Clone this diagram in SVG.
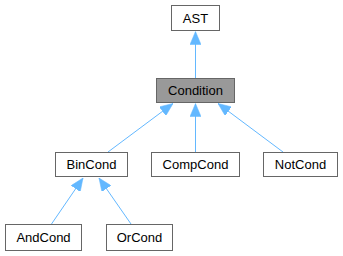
<svg xmlns="http://www.w3.org/2000/svg" width="343" height="256" viewBox="0 0 343 256">
  <style>
    .box { fill: #ffffff; stroke: #666666; stroke-width: 1; }
    .box.hl { fill: #999999; }
    .lbl { font-family: "Liberation Sans", Arial, sans-serif; font-size: 13px; text-anchor: middle; fill: #000000; }
    .edge { fill: none; stroke: #63b8ff; stroke-width: 1; marker-end: url(#arrow); }
  </style>
  <defs>
    <marker id="arrow" viewBox="0 0 13 11" refX="13" refY="5.5" markerWidth="13" markerHeight="11" orient="auto" markerUnits="userSpaceOnUse">
      <path d="M0,0 L13,5.5 L0,11 z" fill="#63b8ff" stroke="#63b8ff" stroke-width="0.5"/>
    </marker>
  </defs>
  <rect width="343" height="256" fill="#ffffff"/>

  <g id="edges">
    <path class="edge" d="M195.5,78 L195.5,31.5"/>
    <path class="edge" d="M108,152 L173,103.5"/>
    <path class="edge" d="M195.5,152 L195.5,103.5"/>
    <path class="edge" d="M283,152 L218,103.5"/>
    <path class="edge" d="M51.5,224 L83,178"/>
    <path class="edge" d="M131,224 L99,178"/>
  </g>

  <g id="AST">
    <rect class="box" x="171.5" y="5.5" width="48" height="25"/>
    <text class="lbl" x="195.5" y="22.5">AST</text>
  </g>
  <g id="Condition">
    <rect class="box hl" x="156.5" y="78.5" width="78" height="24"/>
    <text class="lbl" x="195.5" y="95">Condition</text>
  </g>
  <g id="BinCond">
    <rect class="box" x="55.5" y="152.5" width="72" height="24"/>
    <text class="lbl" x="91.5" y="169">BinCond</text>
  </g>
  <g id="CompCond">
    <rect class="box" x="151.5" y="152.5" width="88" height="24"/>
    <text class="lbl" x="195.5" y="169">CompCond</text>
  </g>
  <g id="NotCond">
    <rect class="box" x="263.5" y="152.5" width="74" height="24"/>
    <text class="lbl" x="300.5" y="169">NotCond</text>
  </g>
  <g id="AndCond">
    <rect class="box" x="5.5" y="224.5" width="76" height="26"/>
    <text class="lbl" x="43.5" y="242">AndCond</text>
  </g>
  <g id="OrCond">
    <rect class="box" x="106.5" y="224.5" width="66" height="26"/>
    <text class="lbl" x="139.5" y="242">OrCond</text>
  </g>
</svg>
